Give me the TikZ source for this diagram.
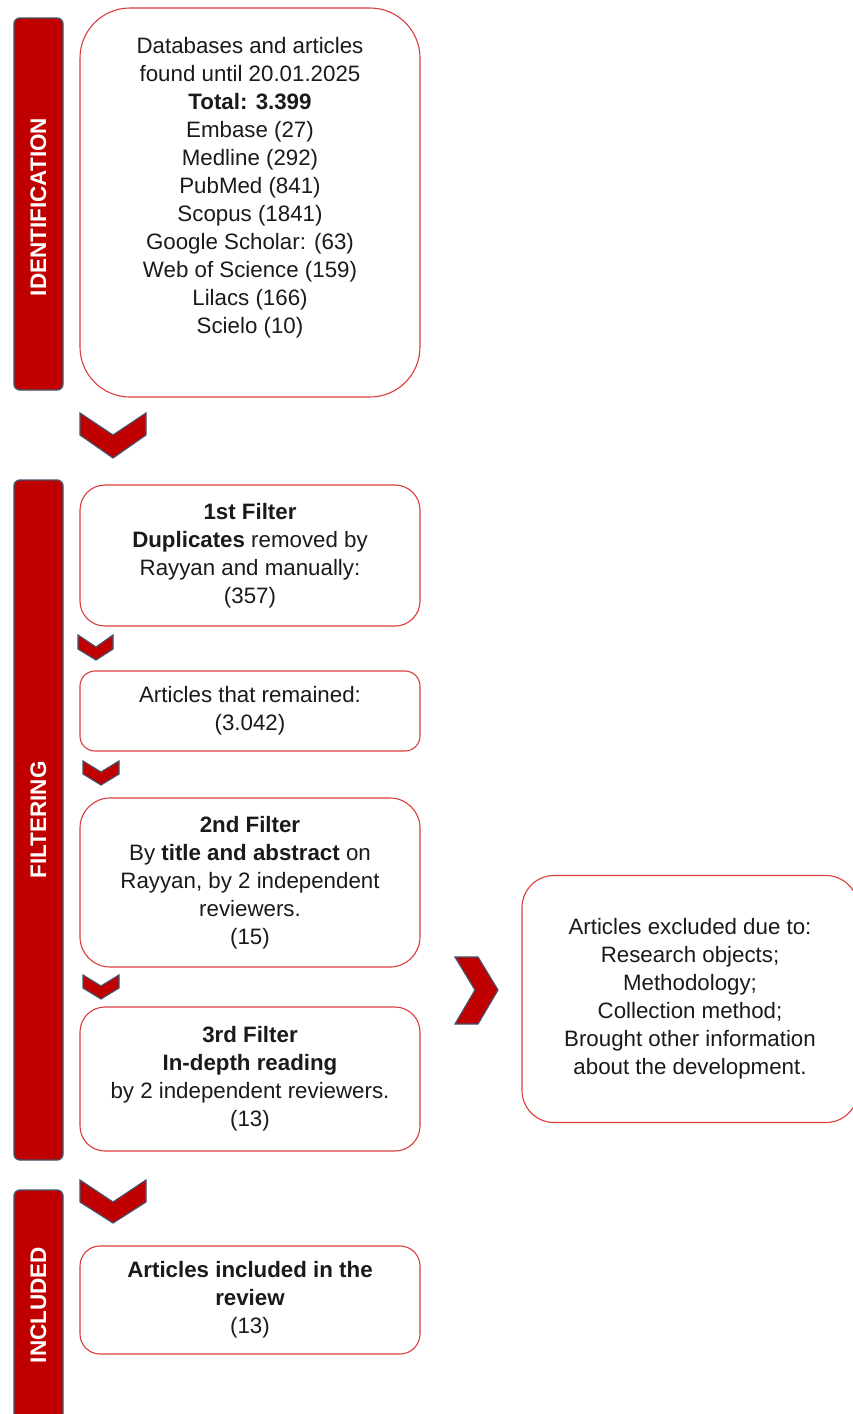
\documentclass[tikz,border=0pt]{standalone}
\usepackage{fontspec}
\setmainfont{Liberation Sans}
\definecolor{barred}{HTML}{C00000}
\definecolor{barline}{HTML}{44546A}
\definecolor{boxred}{HTML}{DC3C3C}
\definecolor{txt}{HTML}{1A1A1A}
\begin{document}
\begin{tikzpicture}[x=1pt,y=-1pt,
  bar/.style={draw=barline, line width=1.4pt, fill=barred, rounded corners=6pt},
  barlabel/.style={text=white, font=\fontsize{22.5}{26}\selectfont\bfseries, rotate=90},
  box/.style={draw=boxred, line width=1.1pt, fill=white, minimum width=340pt, align=center, text=txt, font=\fontsize{22.3}{28}\selectfont, inner sep=0pt},
  chev/.style={draw=barline, line width=1.2pt, fill=barred, line join=miter}]
\useasboundingbox (0,0) rectangle (853,1414);
\begin{scope}
\clip (0,0) rectangle (853,1414);
% side bars
\draw[bar] (14,18) rectangle (63,390);
\node[barlabel] (lid) at (38.5,207) {IDENTIFICATION};
\draw[bar] (14,480) rectangle (63,1160);
\node[barlabel] (lfi) at (38.5,820) {FILTERING};
\draw[bar] (14,1190) rectangle (63,1440);
\node[barlabel] (lin) at (38.5,1305) {INCLUDED};
% boxes
\node[box, minimum height=389pt, rounded corners=50pt] (db) at (250,202.5) {Databases and articles\\found until 20.01.2025\\\textbf{Total: 3.399}\\Embase (27)\\Medline (292)\\PubMed (841)\\Scopus (1841)\\Google Scholar: (63)\\Web of Science (159)\\Lilacs (166)\\Scielo (10)\\[6pt]\mbox{}};
\node[box, minimum height=141pt, rounded corners=25pt] (f1) at (250,555.5) {\textbf{1st Filter}\\\textbf{Duplicates} removed by\\Rayyan and manually:\\(357)};
\node[box, minimum height=80pt, rounded corners=15pt] (rem) at (250,711) {Articles that remained:\\(3.042)};
\node[box, minimum height=169pt, rounded corners=30pt] (f2) at (250,882.5) {\textbf{2nd Filter}\\By \textbf{title and abstract} on\\Rayyan, by 2 independent\\reviewers.\\(15)};
\node[box, minimum height=144pt, rounded corners=25pt] (f3) at (250,1079) {\textbf{3rd Filter}\\\textbf{In-depth reading}\\by 2 independent reviewers.\\(13)};
\node[box, minimum height=108pt, rounded corners=20pt] (inc) at (250,1300) {\textbf{Articles included in the}\\\textbf{review}\\(13)};
\node[box, minimum width=336pt, minimum height=247pt, rounded corners=32pt] (exc) at (690,999) {Articles excluded due to:\\Research objects;\\Methodology;\\Collection method;\\Brought other information\\about the development.};
% chevrons
\draw[chev] (80,413) -- (113,435) -- (146,413) -- (146,435) -- (113,458) -- (80,435) -- cycle;
\draw[chev] (78,635) -- (96,647) -- (113,635) -- (113,649) -- (96,660) -- (78,649) -- cycle;
\draw[chev] (83,761) -- (101,772) -- (119,761) -- (119,774) -- (101,785) -- (83,774) -- cycle;
\draw[chev] (83,975) -- (101,986) -- (119,975) -- (119,988) -- (101,999) -- (83,988) -- cycle;
\draw[chev] (80,1180) -- (113,1202) -- (146,1180) -- (146,1202) -- (113,1223) -- (80,1202) -- cycle;
\draw[chev] (455,957) -- (478,957) -- (498,990) -- (478,1024) -- (455,1024) -- (475,990) -- cycle;
\end{scope}
\end{tikzpicture}
\end{document}
